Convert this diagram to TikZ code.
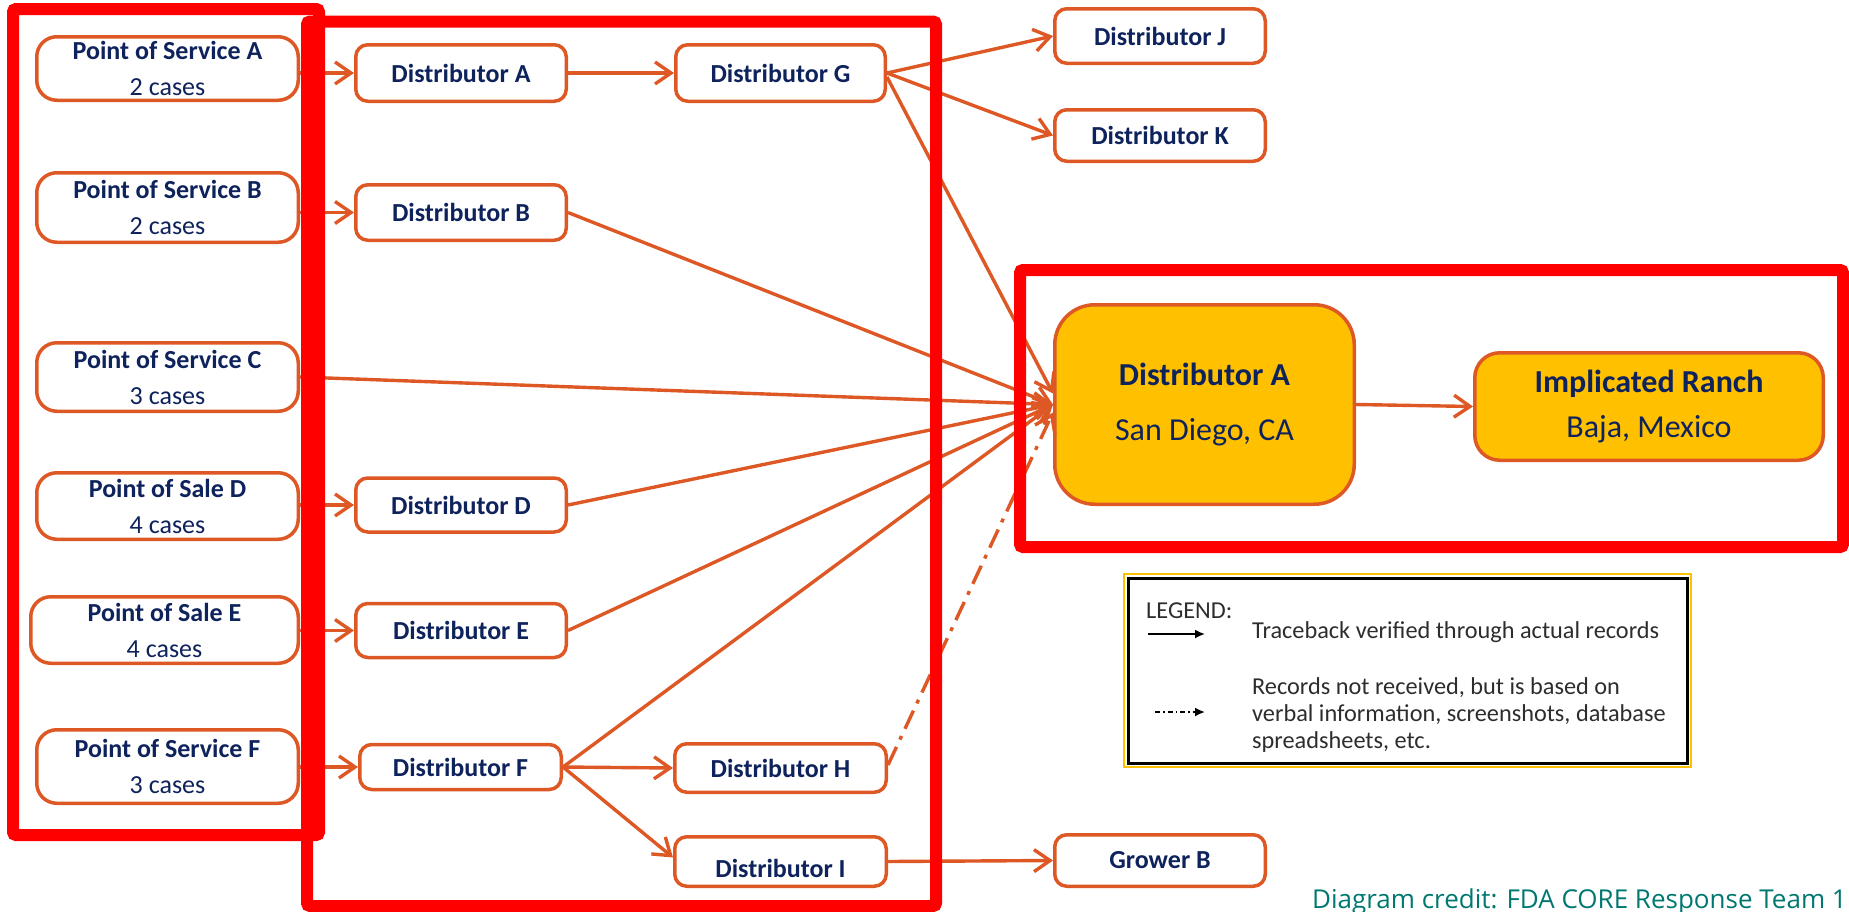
\documentclass[tikz,border=0pt]{standalone}
\usepackage{fontspec}
\setmainfont{Carlito}
\newfontfamily\credfont{Open Sans}
\usetikzlibrary{arrows.meta,calc}
\definecolor{org}{RGB}{221,88,36}
\definecolor{navy}{RGB}{14,34,92}
\definecolor{gold}{RGB}{255,192,0}
\definecolor{redb}{RGB}{255,0,0}
\definecolor{teal2}{RGB}{0,120,112}
\definecolor{legtext}{RGB}{45,45,45}
\begin{document}
\begin{tikzpicture}[x=1pt,y=-1pt,
  nbox/.style={draw=org, line width=3.5pt, rounded corners=12pt, fill=white, text=navy, inner sep=0pt, align=center, font=\fontsize{26}{35}\selectfont\bfseries, minimum width=210.5pt, minimum height=55pt},
  posbox/.style={nbox, rounded corners=20pt, minimum width=261.5pt, font=\fontsize{26}{36}\selectfont},
  bigbox/.style={nbox, fill=gold, font=\fontsize{32}{55}\selectfont},
  conn/.style={draw=org, line width=3.4pt, -{Straight Barb[length=16pt,width=22pt]}},
  dashconn/.style={conn, dash pattern=on 20pt off 8pt on 4pt off 8pt},
  redbox/.style={draw=redb, line width=12pt, rounded corners=3pt},
  legtxt/.style={text=legtext, inner sep=0pt, font=\fontsize{24.3}{27}\selectfont, align=left},
]
\useasboundingbox (0,0) rectangle (1849,911);

% Points of service / sale
\node[posbox, minimum height=63.5pt] (PA) at (167.5,68.5) {\textbf{Point of Service A}\\2 cases};
\node[posbox, minimum height=69.5pt] (PB) at (167.5,207.5) {\textbf{Point of Service B}\\2 cases};
\node[posbox, minimum height=68.5pt] (PC) at (167.5,377) {\textbf{Point of Service C}\\3 cases};
\node[posbox, minimum height=66.5pt] (PD) at (167.5,506) {\textbf{Point of Sale D}\\4 cases};
\node[posbox, minimum height=66.5pt, minimum width=267.5pt] (PE) at (164.5,630) {\textbf{Point of Sale E}\\4 cases};
\node[posbox, minimum height=73.5pt] (PF) at (167.5,766.5) {\textbf{Point of Service F}\\3 cases};

% Distributors
\node[nbox, minimum height=56.5pt] (DA) at (461,73) {Distributor A};
\node[nbox, minimum height=55.5pt] (DB) at (461,212.5) {Distributor B};
\node[nbox, minimum height=54pt] (DD) at (461,505) {Distributor D};
\node[nbox, minimum height=54pt] (DE) at (461,630.5) {Distributor E};
\node[nbox, minimum height=45pt, minimum width=201.5pt] (DF) at (460.5,767) {Distributor F};
\node[nbox, minimum height=56.5pt, minimum width=209.5pt] (DG) at (780.5,73) {Distributor G};
\node[nbox, minimum height=48.5pt, minimum width=211.5pt] (DH) at (780.5,768) {Distributor H};
\node[nbox, minimum height=49.5pt, minimum width=211.5pt] (DI) at (780.5,861.5) {\raisebox{-7pt}[\height][\depth]{Distributor I}};
\node[nbox, minimum height=54.5pt] (DJ) at (1160,36) {Distributor J};
\node[nbox, minimum height=51.5pt] (DK) at (1160,135.5) {Distributor K};
\node[nbox, minimum height=51.5pt] (GB) at (1160,860.5) {Grower B};

% Key nodes
\node[bigbox, rounded corners=40pt, minimum width=299.5pt, minimum height=199.5pt] (MA) at (1204.5,404.5) {\textbf{Distributor A}\\San Diego, CA};
\node[bigbox, rounded corners=25pt, minimum width=348.5pt, minimum height=107.5pt, font=\fontsize{32}{45}\selectfont] (IR) at (1649,406.5) {\textbf{Implicated Ranch}\\Baja, Mexico};

% Connectors
\draw[conn] (DA.west -| PA.east) -- (DA.west);
\draw[conn] (DB.west -| PB.east) -- (DB.west);
\draw[conn] (DD.west -| PD.east) -- (DD.west);
\draw[conn] (DE.west -| PE.east) -- (DE.west);
\draw[conn] (DF.west -| PF.east) -- (DF.west);
\draw[conn] (DA.east) -- (DG.west);
\draw[conn] (DG.east) -- (DJ.west);
\draw[conn] (DG.east) -- (DK.west);
\draw[conn] ([yshift=-4pt]DG.east) -- ([yshift=11pt]MA.west);
\draw[conn] (DB.east) -- (MA.west);
\draw[conn] (PC.east) -- (MA.west);
\draw[conn] (DD.east) -- (MA.west);
\draw[conn] (DE.east) -- (MA.west);
\draw[conn] (DF.east) -- (MA.west);
\draw[conn] (DF.east) -- (DH.west);
\draw[conn] (DF.east) -- ([yshift=4pt]DI.west);
\draw[conn] (DI.east) -- (GB.west);
\draw[dashconn] ([yshift=3pt]DH.east) -- ([yshift=-8pt]MA.west);
\draw[conn] (MA.east) -- (IR.west);

% Red highlight boxes
\draw[redbox] (13,9) rectangle (319,835);
\draw[redbox] (307,21.5) rectangle (936,906);
\draw[redbox] (1020,270) rectangle (1843,547);

% Legend
\draw[gold, line width=2pt] (1124,574) rectangle (1691,767);
\draw[black, line width=3pt] (1128,578) rectangle (1687,763);
\node[legtxt, anchor=west] (lg) at (1146,611) {LEGEND:};
\coordinate (s1) at (1148,634);
\coordinate (e1) at (1205,634);
\coordinate (s2) at (1155,712);
\coordinate (e2) at (1205,712);
\draw[line width=1.8pt, -{Latex[length=10pt,width=9pt]}] (s1) -- (e1);
\draw[line width=1.8pt, dash pattern=on 5pt off 3pt on 1.5pt off 3pt, -{Latex[length=10pt,width=9pt]}] (s2) -- (e2);
\node[legtxt, anchor=west] (lt1) at (1252,632) {Traceback verified through actual records};
\node[legtxt, anchor=west] (lt2) at (1252,715) {Records not received, but is based on\\verbal information, screenshots, database\\spreadsheets, etc.};

% Credit
\node[anchor=base east, inner sep=0pt, text=teal2, font=\credfont\fontsize{26}{30}\selectfont] (cr) at (1847,908) {Diagram credit: FDA CORE Response Team 1};
\end{tikzpicture}
\end{document}
